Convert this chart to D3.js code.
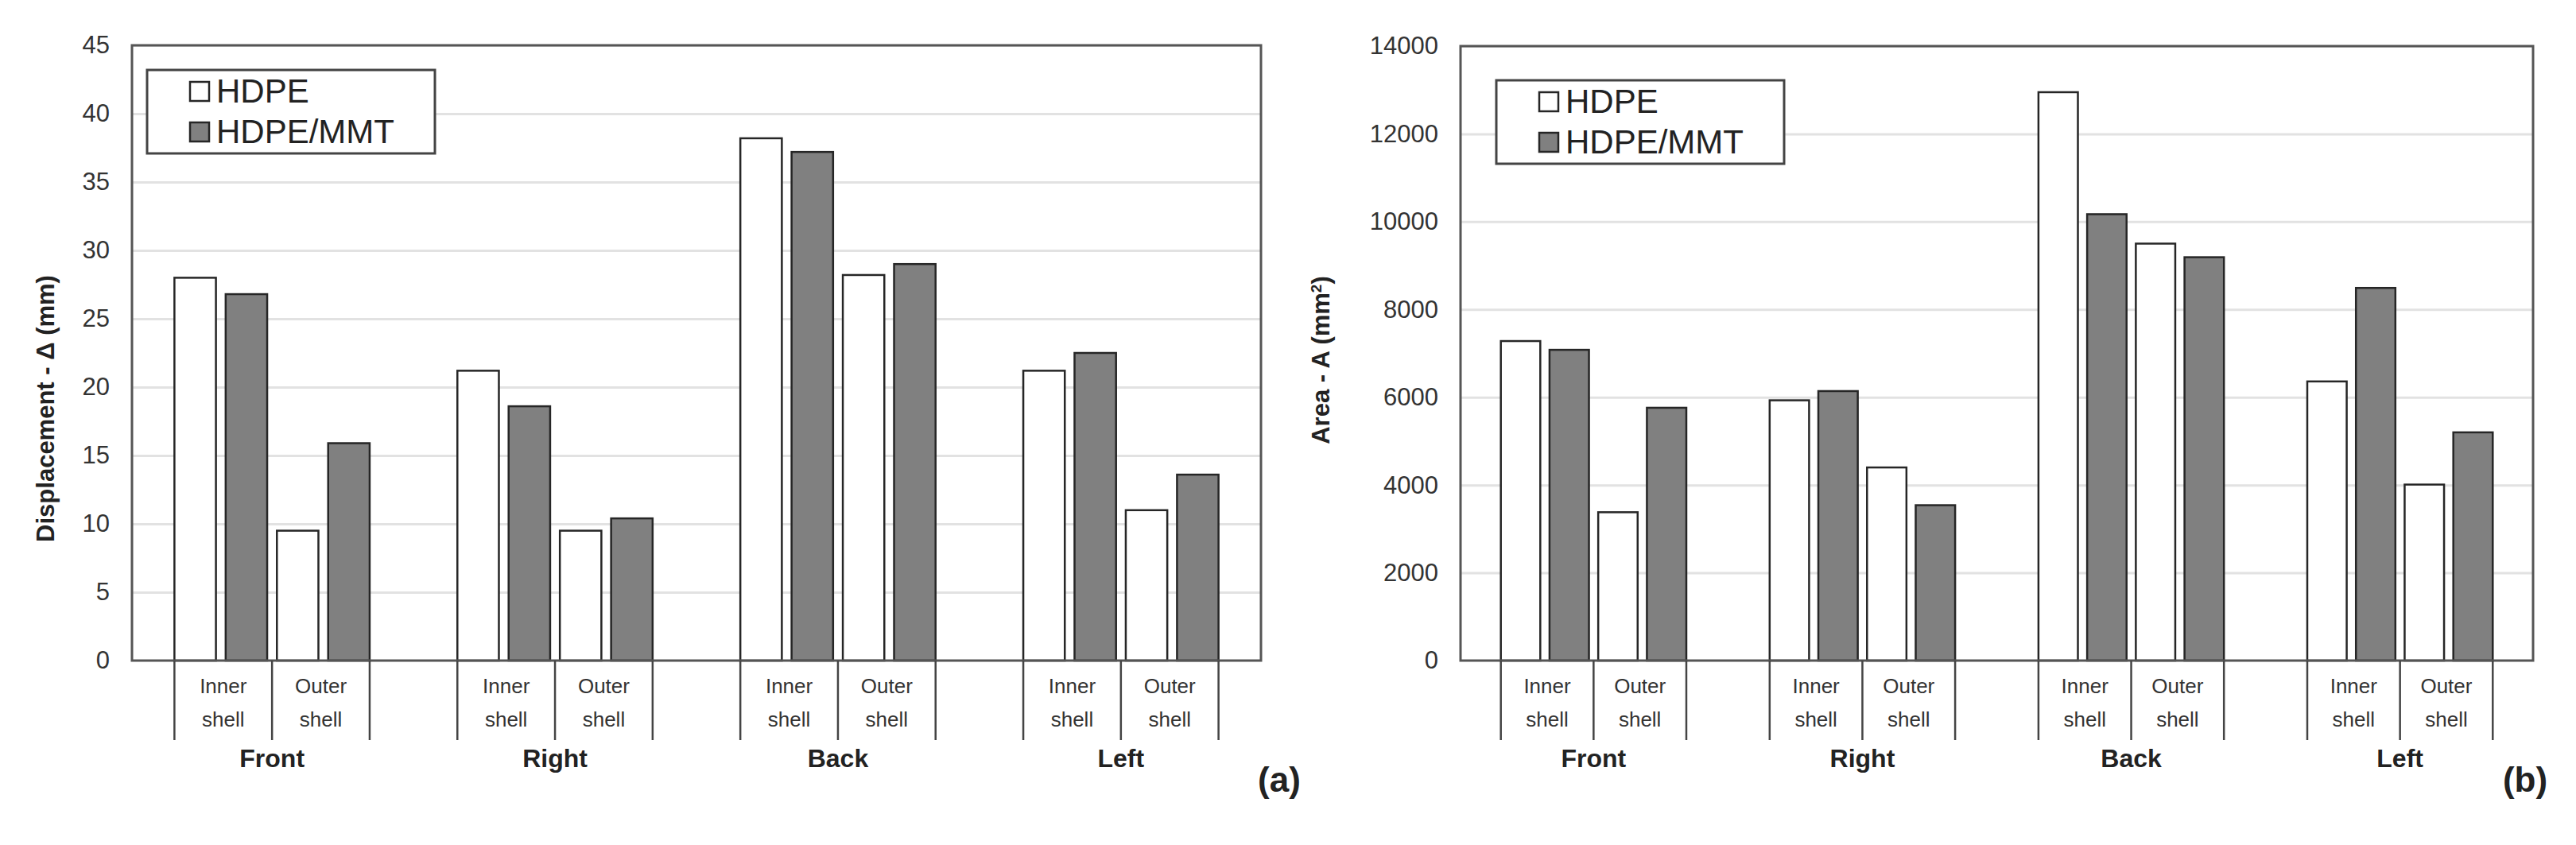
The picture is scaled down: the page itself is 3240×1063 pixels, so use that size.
<!DOCTYPE html>
<html><head><meta charset="utf-8">
<script src="https://cdn.jsdelivr.net/npm/d3@7"></script>
<style>
body{margin:0;background:#fff}
svg{display:block}
text{font-family:"Liberation Sans",Arial,Helvetica,sans-serif}
</style>
</head><body>
<svg id="c" width="3240" height="1063"></svg>
<script>
// ---- data ----
const groups = ["Front", "Right", "Back", "Left"];
const shells = ["Inner", "Outer"];
const shellWord = "shell";
const seriesNames = ["HDPE", "HDPE/MMT"];
// order: Front-Inner, Front-Outer, Right-Inner, Right-Outer, Back-Inner, Back-Outer, Left-Inner, Left-Outer
const dispHDPE = [28.0, 9.5, 21.2, 9.5, 38.2, 28.2, 21.2, 11.0];
const dispMMT  = [26.8, 15.9, 18.6, 10.4, 37.2, 29.0, 22.5, 13.6];
const areaHDPE = [7280, 3380, 5930, 4400, 12950, 9500, 6360, 4010];
const areaMMT  = [7080, 5760, 6140, 3540, 10170, 9190, 8490, 5200];
const dispTicks = [0, 5, 10, 15, 20, 25, 30, 35, 40, 45];
const areaTicks = [0, 2000, 4000, 6000, 8000, 10000, 12000, 14000];

const svg = d3.select("#c");

function panel(o) {
  const g = svg.append("g");
  const x0 = d3.scaleBand().domain(groups).range([o.left, o.right]).paddingInner(0.31).paddingOuter(0.15);
  const x1 = d3.scaleBand().domain(shells).range([0, x0.bandwidth()]).paddingInner(0.095);
  const x2 = d3.scaleBand().domain(seriesNames).range([0, x1.bandwidth()]).paddingInner(0.19);
  const y = d3.scaleLinear().domain([0, o.ticks[o.ticks.length - 1]]).range([o.bottom, o.top]);
  const gap = x2.step() - x2.bandwidth();

  // gridlines
  g.append("g").attr("transform", `translate(${o.left},0)`)
    .call(d3.axisLeft(y).tickValues(o.ticks.slice(1)).tickSize(-(o.right - o.left)).tickFormat(""))
    .call(s => s.select(".domain").remove())
    .call(s => s.selectAll("line").attr("stroke", "#e2e2e2").attr("stroke-width", 3));

  // bars
  const rows = [];
  groups.forEach((gr, gi) => shells.forEach((sh, si) => {
    const i = gi * 2 + si;
    rows.push({gr, sh, s: seriesNames[0], v: o.a[i]});
    rows.push({gr, sh, s: seriesNames[1], v: o.b[i]});
  }));
  g.selectAll("rect.bar").data(rows).join("rect").attr("class", "bar")
    .attr("x", d => x0(d.gr) + x1(d.sh) + x2(d.s))
    .attr("width", x2.bandwidth())
    .attr("y", d => y(d.v))
    .attr("height", d => y(0) - y(d.v))
    .attr("fill", d => d.s === seriesNames[0] ? "#ffffff" : "#808080")
    .attr("stroke", "#262626").attr("stroke-width", 2.5);

  // frame
  g.append("rect").attr("x", o.left).attr("y", o.top)
    .attr("width", o.right - o.left).attr("height", o.bottom - o.top)
    .attr("fill", "none").attr("stroke", "#555").attr("stroke-width", 3);

  // y tick labels
  g.append("g").attr("transform", `translate(${o.left},0)`)
    .call(d3.axisLeft(y).tickValues(o.ticks).tickSize(0).tickPadding(28).tickFormat(d3.format("d")))
    .call(s => s.select(".domain").remove())
    .call(s => s.selectAll("text").attr("font-size", 31).attr("fill", "#333")
      .style("font-family", '"Liberation Sans",Arial,sans-serif'));

  // y title
  g.append("text")
    .attr("transform", `translate(${o.titleX},${o.titleY}) rotate(-90)`)
    .attr("text-anchor", "middle").attr("dy", "0.35em")
    .attr("font-size", 31).attr("font-weight", "bold").attr("fill", "#222")
    .text(o.title)
    .call(t => { if (o.sup) { t.append("tspan").attr("baseline-shift", "super").attr("font-size", 19).text(o.sup); t.append("tspan").text(")"); } });

  // multi-level category axis
  groups.forEach(gr => {
    const start = x0(gr);
    const mid = x0(gr) + x1("Outer") - gap / 2;
    const end = x0(gr) + x0.bandwidth();
    [start, mid, end].forEach(xx => {
      g.append("line").attr("x1", xx).attr("x2", xx).attr("y1", o.bottom).attr("y2", o.bottom + 100)
        .attr("stroke", "#444").attr("stroke-width", 2.5);
    });
    const centers = [(start + mid) / 2, (mid + end) / 2];
    shells.forEach((sh, si) => {
      g.append("text").attr("x", centers[si]).attr("y", o.bottom + 41)
        .attr("text-anchor", "middle").attr("font-size", 26).attr("fill", "#333").text(sh);
      g.append("text").attr("x", centers[si]).attr("y", o.bottom + 83)
        .attr("text-anchor", "middle").attr("font-size", 26).attr("fill", "#333").text(shellWord);
    });
    g.append("text").attr("x", start + x0.bandwidth() / 2).attr("y", o.bottom + 134)
      .attr("text-anchor", "middle").attr("font-size", 32).attr("font-weight", "bold").attr("fill", "#222").text(gr);
  });

  // panel tag
  g.append("text").attr("x", o.tagX).attr("y", 996).attr("text-anchor", "middle")
    .attr("font-size", 44).attr("font-weight", "bold").attr("fill", "#222").text(o.tag);

  // legend
  const L = o.legend;
  g.append("rect").attr("x", L.x).attr("y", L.y).attr("width", 362).attr("height", 105)
    .attr("fill", "#fff").attr("stroke", "#444").attr("stroke-width", 3);
  seriesNames.forEach((s, i) => {
    g.append("rect").attr("x", L.x + 54).attr("y", L.y + 15 + i * 51).attr("width", 24).attr("height", 24)
      .attr("fill", i === 0 ? "#fff" : "#808080").attr("stroke", "#262626").attr("stroke-width", 2.5);
    g.append("text").attr("x", L.x + 87).attr("y", L.y + 41 + i * 51)
      .attr("font-size", 42).attr("fill", "#222").text(s);
  });
}

panel({left: 166, right: 1586, top: 57, bottom: 831, ticks: dispTicks, a: dispHDPE, b: dispMMT,
  title: "Displacement - \u0394 (mm)", titleX: 57, titleY: 514, tag: "(a)", tagX: 1609,
  legend: {x: 185, y: 88}});
panel({left: 1837, right: 3186, top: 58, bottom: 831, ticks: areaTicks, a: areaHDPE, b: areaMMT,
  title: "Area - A (mm", sup: "2", titleX: 1661, titleY: 453, tag: "(b)", tagX: 3176,
  legend: {x: 1882, y: 101}});
</script>
</body></html>
